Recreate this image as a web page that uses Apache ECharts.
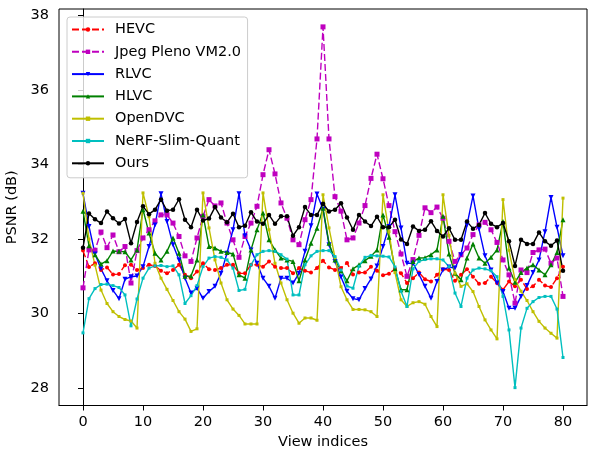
<!DOCTYPE html>
<html><head><meta charset="utf-8">
<script src="https://cdn.jsdelivr.net/npm/echarts@6/dist/echarts.min.js"></script>
<style>html,body{margin:0;padding:0;background:#fff}#c{width:589px;height:449px}</style>
</head><body><div id="c"></div>
<script>
const viewIndices = [0,1,2,3,4,5,6,7,8,9,10,11,12,13,14,15,16,17,18,19,20,21,22,23,24,25,26,27,28,29,30,31,32,33,34,35,36,37,38,39,40,41,42,43,44,45,46,47,48,49,50,51,52,53,54,55,56,57,58,59,60,61,62,63,64,65,66,67,68,69,70,71,72,73,74,75,76,77,78,79,80];
const xTicks = [0,10,20,30,40,50,60,70,80];
const yTicks = [28,30,32,34,36,38];

const hevc = [31.69,31.25,31.35,31.17,31.24,31.05,31.06,31.30,31.31,31.17,31.22,31.31,31.28,31.15,31.08,31.17,31.31,31.04,30.95,31.13,31.35,31.19,31.17,31.22,31.31,31.31,31.08,31.08,31.31,31.31,31.26,31.40,31.26,31.22,31.22,31.08,31.22,31.15,31.10,31.22,31.42,31.24,31.17,31.22,31.36,31.05,31.10,31.10,31.26,31.15,31.03,31.07,31.20,31.08,30.82,30.95,31.10,30.92,30.86,31.04,31.19,31.17,30.88,31.04,31.19,30.99,30.80,30.82,30.99,30.82,30.64,30.86,30.73,30.91,30.66,30.73,30.91,30.75,30.71,30.95,31.26];
const jpegPleno = [30.69,31.71,31.70,32.19,31.77,32.11,31.66,31.80,30.82,31.69,32.03,32.25,32.49,32.65,32.65,32.43,32.07,31.55,31.40,32.03,32.61,33.06,32.89,32.97,32.43,31.98,31.51,32.07,32.43,32.88,33.73,34.40,33.75,32.97,32.56,31.98,31.85,32.52,33.06,34.69,37.70,34.69,33.14,32.75,31.98,32.03,32.43,32.90,33.63,34.28,33.62,32.90,32.20,31.60,31.00,31.45,32.10,32.84,32.71,32.86,32.56,31.94,31.40,31.58,31.76,32.12,32.38,32.45,32.25,31.91,31.44,31.04,30.28,31.17,31.10,31.64,31.71,31.73,31.35,31.49,30.46];
const rlvc = [33.23,32.34,31.60,31.20,30.88,30.62,30.40,30.92,30.99,31.01,31.26,31.80,32.38,33.22,32.47,31.85,31.44,30.95,30.55,30.68,30.41,30.59,30.73,31.08,31.62,32.25,33.22,32.09,31.71,31.35,30.95,30.73,30.41,30.95,30.95,30.82,31.08,31.67,32.36,33.21,32.80,31.85,31.40,30.98,30.60,30.40,30.37,30.67,30.93,31.28,31.80,32.34,33.19,32.30,31.35,31.35,31.05,30.73,30.41,30.86,31.17,31.25,31.22,31.58,32.38,33.16,32.27,31.55,31.17,30.82,30.59,30.14,30.14,30.46,30.75,31.10,31.44,32.20,33.12,32.32,31.55];
const hlvc = [32.75,31.82,31.58,31.33,31.42,31.68,31.67,31.66,31.44,31.71,32.79,32.16,31.62,31.44,31.67,32.03,31.62,31.00,31.01,31.44,32.65,31.80,31.76,31.67,31.64,31.60,31.04,30.95,31.71,32.25,32.70,31.98,31.71,31.49,31.44,31.40,30.88,31.44,31.89,32.29,32.83,31.89,31.44,31.15,30.88,31.20,31.31,31.42,31.54,31.71,32.65,32.05,31.20,30.64,30.64,31.40,31.49,31.50,31.58,31.71,32.61,31.60,31.08,30.91,31.49,31.87,31.49,31.35,31.51,31.71,32.47,31.22,30.84,31.10,31.22,31.31,31.17,31.04,31.31,31.64,32.52];
const openDVC = [33.23,32.00,31.30,30.63,30.27,30.05,29.92,29.84,29.80,29.61,33.24,32.60,31.35,30.95,30.65,30.35,30.05,29.85,29.52,29.59,33.24,32.30,31.44,30.82,30.37,30.12,29.95,29.72,29.72,29.72,33.24,32.25,31.35,30.82,30.37,30.01,29.74,29.88,29.88,29.82,33.19,32.30,31.50,30.72,30.37,30.11,30.11,30.10,30.05,29.92,33.19,32.20,31.10,30.37,30.19,30.29,30.32,30.25,29.92,29.65,33.19,32.10,31.08,30.73,30.80,30.59,30.19,29.83,29.56,29.32,33.06,31.70,30.91,30.60,30.35,30.05,29.79,29.61,29.47,29.34,33.10];
const nerfSlimQuant = [29.48,30.40,30.67,30.78,30.79,30.75,30.70,30.50,29.67,30.39,30.95,31.22,31.28,31.29,31.26,31.28,31.04,30.27,30.48,30.75,31.26,31.49,31.53,31.51,31.44,31.22,30.62,30.65,31.31,31.58,31.67,31.69,31.67,31.58,31.46,30.50,30.50,31.31,31.55,31.67,31.69,31.69,31.53,31.17,30.74,30.68,31.27,31.51,31.56,31.55,31.54,31.52,31.25,30.60,30.19,31.20,31.40,31.45,31.47,31.47,31.44,31.26,30.55,30.19,30.95,31.17,31.22,31.20,31.15,30.99,30.46,29.56,28.01,29.61,30.14,30.32,30.43,30.46,30.46,30.12,28.82];
const ours = [31.77,32.69,32.53,32.43,32.74,32.56,32.42,32.54,31.89,32.46,32.88,32.67,32.79,33.06,32.76,32.79,33.07,32.52,32.32,32.79,32.50,32.55,32.86,32.58,32.45,32.68,32.32,32.36,32.72,32.47,32.41,32.65,32.41,32.61,32.61,32.09,32.32,32.86,32.65,32.65,32.95,32.74,32.79,32.96,32.58,32.25,32.65,32.47,32.35,32.60,32.32,32.32,32.52,31.99,31.87,32.34,32.22,32.25,32.48,32.22,32.07,32.29,31.98,31.98,32.47,32.28,32.38,32.70,32.41,32.32,32.43,31.94,31.28,31.98,31.87,31.87,32.18,31.94,31.82,31.96,31.15];

const FONT = 'DejaVu Sans';
const FS = 14.5;
const pairs = arr => viewIndices.map((x, k) => [x, arr[k]]);

const seriesDefs = [
  {name: 'HEVC', data: hevc, color: '#ff0000', dash: [7, 3], symbol: 'circle', size: 4},
  {name: 'Jpeg Pleno VM2.0', data: jpegPleno, color: '#bf00bf', dash: [7, 3], symbol: 'rect', size: 5},
  {name: 'RLVC', data: rlvc, color: '#0000ff', dash: 'solid', symbol: 'triangle', size: 5, rot: 180},
  {name: 'HLVC', data: hlvc, color: '#008000', dash: 'solid', symbol: 'triangle', size: 5},
  {name: 'OpenDVC', data: openDVC, color: '#bfbf00', dash: 'solid', symbol: 'rect', size: 3},
  {name: 'NeRF-Slim-Quant', data: nerfSlimQuant, color: '#00bfbf', dash: 'solid', symbol: 'rect', size: 3},
  {name: 'Ours', data: ours, color: '#000000', dash: 'solid', symbol: 'circle', size: 4.5}
];

const chart = echarts.init(document.getElementById('c'), null, {renderer: 'canvas'});
chart.setOption({
  animation: false,
  backgroundColor: '#ffffff',
  grid: {left: 59, right: 2, top: 9, bottom: 43.5, containLabel: false, outerBoundsMode: 'none',
         show: true, borderColor: '#000', borderWidth: 1, backgroundColor: 'transparent'},
  legend: {
    left: 67, top: 17, orient: 'vertical',
    itemWidth: 32, itemHeight: 5.5, itemGap: 7.3,
    padding: [5, 6.5, 7, 4],
    backgroundColor: 'rgba(255,255,255,0.8)', borderColor: '#cccccc', borderWidth: 1, borderRadius: 3,
    textStyle: {fontFamily: FONT, fontSize: FS, color: '#000', padding: [0, 0, 0, 6]},
    data: seriesDefs.map(s => s.name)
  },
  xAxis: {
    type: 'value', min: -4, max: 84,
    name: 'View indices', nameLocation: 'middle', nameGap: 29,
    nameTextStyle: {fontFamily: FONT, fontSize: FS, color: '#000'},
    axisLine: {show: true, lineStyle: {color: '#000', width: 1}},
    axisTick: {show: true, length: 5, lineStyle: {color: '#000'}, customValues: xTicks},
    axisLabel: {fontFamily: FONT, fontSize: FS, color: '#000', margin: 9, customValues: xTicks},
    splitLine: {show: false}
  },
  yAxis: {
    type: 'value', min: 27.53, max: 38.18,
    name: 'PSNR (dB)', nameLocation: 'middle', nameGap: 36, nameRotate: 90,
    nameTextStyle: {fontFamily: FONT, fontSize: FS, color: '#000'},
    axisLine: {show: true, lineStyle: {color: '#000', width: 1}},
    axisTick: {show: true, length: 5, lineStyle: {color: '#000'}, customValues: yTicks},
    axisLabel: {fontFamily: FONT, fontSize: FS, color: '#000', margin: 10, customValues: yTicks},
    splitLine: {show: false}
  },
  series: seriesDefs.map(s => ({
    name: s.name, type: 'line', data: pairs(s.data),
    symbol: s.symbol, symbolSize: s.size, symbolRotate: s.rot || 0,
    showSymbol: true, showAllSymbol: true,
    lineStyle: {color: s.color, width: 1.4, type: s.dash},
    itemStyle: {color: s.color, borderWidth: 0},
    emphasis: {disabled: true}
  }))
});
</script></body></html>
